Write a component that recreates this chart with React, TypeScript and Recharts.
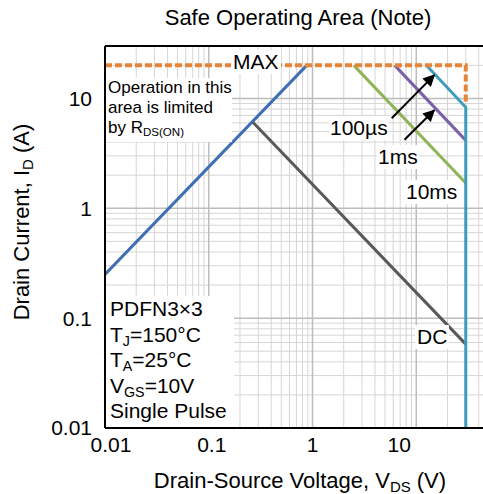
import { LineChart, Line, XAxis, YAxis, ReferenceLine } from 'recharts';

// Safe operating area curves, V_DS (V) against I_D (A)
const rdsV = [0.01, 0.88];
const rdsI = [0.25, 20];
const maxV = [0.01, 30, 30];
const maxI = [20, 20, 9];
const us100V = [12.5, 30, 30];
const us100I = [20, 8.3, 0.01];
const ms1V = [6.2, 30];
const ms1I = [20, 4.15];
const ms10V = [2.5, 30];
const ms10I = [20, 1.7];
const dcV = [0.265, 30];
const dcI = [6.1, 0.058];

// pointer arrows for the 100µs and 1ms labels
const arrow100V = [5.8, 14.9];
const arrow100I = [6.6, 16.3];
const arrow1msV = [7.7, 14.9];
const arrow1msI = [4.2, 7.8];

const xTicks = [0.01, 0.1, 1, 10];
const yTicks = [0.01, 0.1, 1, 10];
const xTickLabels = ['0.01', '0.1', '1', '10'];
const yTickLabels = ['0.01', '0.1', '1', '10'];

const X_DOMAIN = [0.01, 100];
const Y_DOMAIN = [0.01, 30];

const pts = (v: number[], i: number[]) => v.map((x, k) => ({ x, y: i[k] }));

// 1..9 steps of every decade inside [lo, hi]
function logGrid(lo: number, hi: number) {
  const major: number[] = [];
  const minor: number[] = [];
  for (let e = Math.floor(Math.log10(lo)); e <= Math.ceil(Math.log10(hi)); e++) {
    for (let m = 1; m <= 9; m++) {
      const v = Number((m * Math.pow(10, e)).toPrecision(3));
      if (v < lo - 1e-12 || v > hi + 1e-9) continue;
      (m === 1 ? major : minor).push(v);
    }
  }
  return { major, minor };
}

const xGrid = logGrid(X_DOMAIN[0], X_DOMAIN[1]);
const yGrid = logGrid(Y_DOMAIN[0], Y_DOMAIN[1]);

const FONT = '"Liberation Sans", Arial, sans-serif';
const xLabelShift: Record<string, number> = { '0.01': 6, '0.1': 3, '1': 0, '10': -17 };

function XTick({ x, y, payload }: any) {
  const i = xTicks.indexOf(payload.value);
  const label = xTickLabels[i] ?? '';
  return (
    <text x={x + (xLabelShift[label] || 0)} y={y} dy="0.71em" textAnchor="middle" fontSize={21} fontFamily={FONT} fill="#000">
      {label}
    </text>
  );
}

function YTick({ x, y, payload }: any) {
  const i = yTicks.indexOf(payload.value);
  return (
    <text x={x} y={y} dy="0.355em" textAnchor="end" fontSize={21} fontFamily={FONT} fill="#000">
      {yTickLabels[i] ?? ''}
    </text>
  );
}

// subscript that doesn't push the line box apart
const sub: React.CSSProperties = { fontSize: '0.68em', position: 'relative', top: '0.3em', lineHeight: 0 };

const box = (left: number, top: number, extra?: React.CSSProperties): React.CSSProperties => ({
  position: 'absolute',
  left,
  top,
  background: '#fff',
  whiteSpace: 'nowrap',
  fontSize: 21,
  lineHeight: '24px',
  color: '#000',
  ...extra,
});

export default function App() {
  return (
    <div style={{ position: 'absolute', left: 0, top: 0, width: 483, height: 494, overflow: 'hidden', background: '#fff', fontFamily: FONT }}>
      <svg width={0} height={0} style={{ position: 'absolute' }}>
        <defs>
          <marker id="arrowHead" viewBox="0 0 10 10" refX="9" refY="5" markerWidth="6" markerHeight="6" orient="auto">
            <path d="M0,0 L10,5 L0,10 z" fill="#000" />
          </marker>
        </defs>
      </svg>

      <LineChart width={540} height={494} margin={{ top: 46, right: 20, bottom: 0, left: 0 }}>
        {xGrid.minor.map((v) => (
          <ReferenceLine key={`xm${v}`} x={v} stroke="#d6d6d6" strokeWidth={1} />
        ))}
        {yGrid.minor.map((v) => (
          <ReferenceLine key={`ym${v}`} y={v} stroke="#d6d6d6" strokeWidth={1} />
        ))}
        {xGrid.major.map((v) => (
          <ReferenceLine key={`xM${v}`} x={v} stroke="#bdbdbd" strokeWidth={1.5} />
        ))}
        {yGrid.major.map((v) => (
          <ReferenceLine key={`yM${v}`} y={v} stroke="#bdbdbd" strokeWidth={1.5} />
        ))}
        <ReferenceLine y={Y_DOMAIN[1]} stroke="#000" strokeWidth={2} />

        <XAxis
          dataKey="x"
          type="number"
          scale="log"
          domain={X_DOMAIN}
          ticks={xTicks}
          allowDataOverflow
          height={66}
          tickSize={0}
          tickMargin={9}
          tick={<XTick />}
          axisLine={{ stroke: '#000', strokeWidth: 2 }}
          interval={0}
        />
        <YAxis
          dataKey="y"
          type="number"
          scale="log"
          domain={Y_DOMAIN}
          ticks={yTicks}
          allowDataOverflow
          width={105}
          tickSize={0}
          tickMargin={13}
          tick={<YTick />}
          axisLine={{ stroke: '#000', strokeWidth: 2 }}
          interval={0}
        />

        <Line data={pts(rdsV, rdsI)} dataKey="y" type="linear" stroke="#3f6fb3" strokeWidth={3} dot={false} isAnimationActive={false} />
        <Line data={pts(dcV, dcI)} dataKey="y" type="linear" stroke="#595959" strokeWidth={3} dot={false} isAnimationActive={false} />
        <Line data={pts(ms10V, ms10I)} dataKey="y" type="linear" stroke="#8fb457" strokeWidth={3} dot={false} isAnimationActive={false} />
        <Line data={pts(ms1V, ms1I)} dataKey="y" type="linear" stroke="#7b60a8" strokeWidth={3} dot={false} isAnimationActive={false} />
        <Line data={pts(us100V, us100I)} dataKey="y" type="linear" stroke="#3d9db9" strokeWidth={3} dot={false} isAnimationActive={false} />
        <Line data={pts(maxV, maxI)} dataKey="y" type="linear" stroke="#e5853a" strokeWidth={4} strokeDasharray="7 3" dot={false} isAnimationActive={false} />
        <Line data={pts(arrow100V, arrow100I)} dataKey="y" type="linear" stroke="#000" strokeWidth={2} markerEnd="url(#arrowHead)" dot={false} isAnimationActive={false} />
        <Line data={pts(arrow1msV, arrow1msI)} dataKey="y" type="linear" stroke="#000" strokeWidth={2} markerEnd="url(#arrowHead)" dot={false} isAnimationActive={false} />
      </LineChart>

      <div style={{ position: 'absolute', left: 298, top: 5, transform: 'translateX(-50%)', whiteSpace: 'nowrap', fontSize: 22 }}>
        Safe Operating Area (Note)
      </div>
      <div style={{ position: 'absolute', left: 300, top: 468, transform: 'translateX(-50%)', whiteSpace: 'nowrap', fontSize: 22 }}>
        Drain-Source Voltage, V<span style={sub}>DS</span> (V)
      </div>
      <div style={{ position: 'absolute', left: 22, top: 222, transform: 'translate(-50%, -50%) rotate(-90deg)', whiteSpace: 'nowrap', fontSize: 22 }}>
        Drain Current, I<span style={sub}>D</span> (A)
      </div>

      <div style={box(231, 50, { padding: '0 2px' })}>MAX</div>
      <div style={box(106, 78, { width: 124, height: 64, fontSize: 17, lineHeight: '20px', paddingLeft: 2 })}>
        Operation in this
        <br />
        area is limited
        <br />
        by R<span style={sub}>DS(ON)</span>
      </div>
      <div style={box(329, 116, { padding: '0 1px' })}>100µs</div>
      <div style={box(377, 145, { padding: '0 1px' })}>1ms</div>
      <div style={box(404, 180, { padding: '0 2px' })}>10ms</div>
      <div style={box(415, 325, { padding: '0 2px' })}>DC</div>
      <div style={box(106, 296, { width: 124, height: 131, fontSize: 21, lineHeight: '25.5px', paddingLeft: 4 })}>
        PDFN3×3
        <br />
        T<span style={sub}>J</span>=150°C
        <br />
        T<span style={sub}>A</span>=25°C
        <br />
        V<span style={sub}>GS</span>=10V
        <br />
        Single Pulse
      </div>
    </div>
  );
}
